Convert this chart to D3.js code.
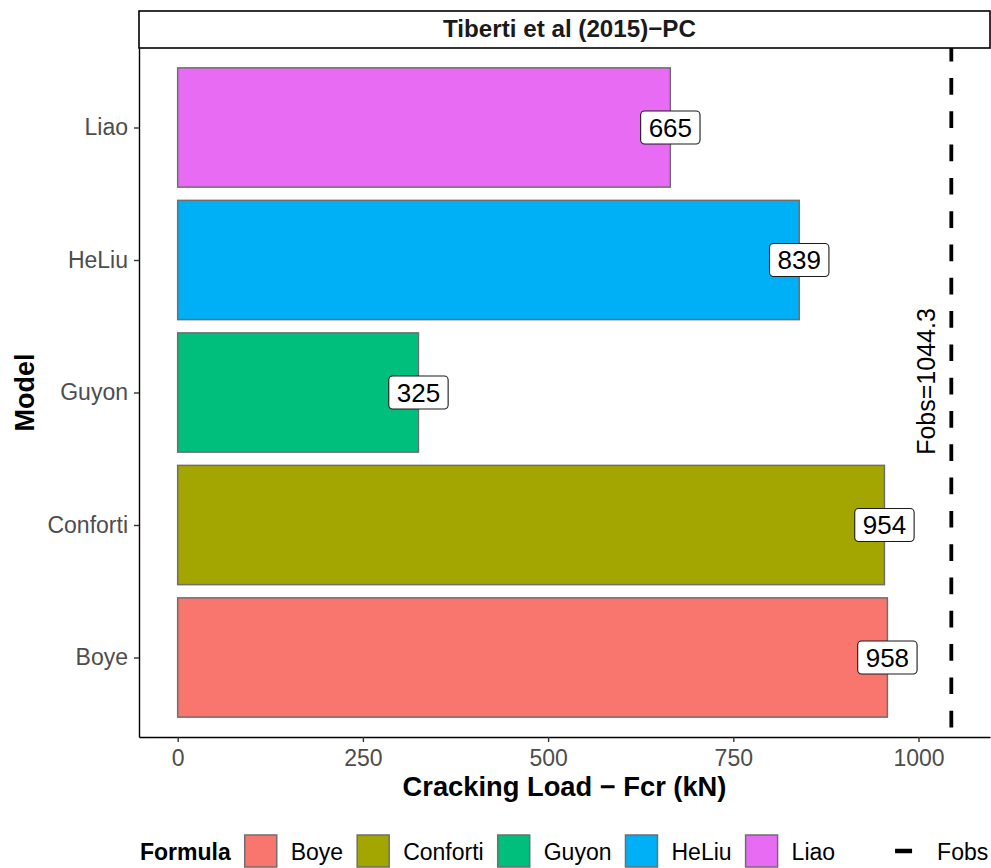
<!DOCTYPE html>
<html>
<head>
<meta charset="utf-8">
<script src="https://cdn.jsdelivr.net/npm/d3@7"></script>
<style>
  html, body { margin: 0; padding: 0; background: #ffffff; }
  svg { display: block; font-family: "Liberation Sans", Arial, Helvetica, sans-serif; }
</style>
</head>
<body>
<svg id="chart" width="991" height="868"></svg>
<script>
// Cracking load per formula, Tiberti et al (2015) - PC specimen
const models = ["Boye", "Conforti", "Guyon", "HeLiu", "Liao"];
const fcr = [958, 954, 325, 839, 665];
const fillColors = ["#F8766D", "#A3A500", "#00BF7D", "#00B0F6", "#E76BF3"];
const fobs = 1044.3;
const xTicks = [0, 250, 500, 750, 1000];
const stripTitle = "Tiberti et al (2015)\u2212PC";
const xTitle = "Cracking Load \u2212 Fcr (kN)";
const yTitle = "Model";
const legendTitle = "Formula";
const fobsKeyLabel = "Fobs";

const svg = d3.select("#chart");
const W = 991, H = 868;
const panel = { left: 139, right: 990, top: 48, bottom: 737 };

svg.append("rect").attr("width", W).attr("height", H).attr("fill", "#ffffff");

// scales (5% expansion on the continuous axis, 0.6 on the discrete one)
const xMax = fobs;
const x = d3.scaleLinear()
  .domain([-0.05 * xMax, xMax * 1.05])
  .range([panel.left, panel.right]);

const y = d3.scalePoint()
  .domain(models.slice().reverse())
  .range([panel.top, panel.bottom])
  .padding(0.6);

const barH = y.step() * 0.9;
const color = d3.scaleOrdinal().domain(models).range(fillColors);
const data = models.map((m, i) => ({ model: m, value: fcr[i] }));

// strip
svg.append("rect")
  .attr("x", panel.left).attr("y", 11)
  .attr("width", panel.right - panel.left).attr("height", panel.top - 11)
  .attr("fill", "#ffffff").attr("stroke", "#000000").attr("stroke-width", 1.6);
svg.append("text")
  .attr("x", (panel.left + panel.right) / 2 + 5).attr("y", 36.5)
  .attr("text-anchor", "middle")
  .attr("font-weight", "bold").attr("font-size", 24.2)
  .attr("fill", "#1a1a1a")
  .text(stripTitle);

// bars
svg.append("g").selectAll("rect")
  .data(data).join("rect")
  .attr("x", x(0))
  .attr("y", d => y(d.model) - barH / 2)
  .attr("width", d => x(d.value) - x(0))
  .attr("height", barH)
  .attr("fill", d => color(d.model))
  .attr("stroke", "#6e6e6e")
  .attr("stroke-width", 1.5);

// observed load reference line
svg.append("line")
  .attr("x1", x(fobs)).attr("x2", x(fobs))
  .attr("y1", panel.top).attr("y2", panel.bottom)
  .attr("stroke", "#000000").attr("stroke-width", 3.8)
  .attr("stroke-dasharray", "16.7 16.6")
  .attr("stroke-dashoffset", 3.3);

svg.append("text")
  .attr("transform", `translate(${x(fobs) - 16},${381.5}) rotate(-90)`)
  .attr("text-anchor", "middle")
  .attr("font-size", 25)
  .attr("fill", "#000000")
  .text("Fobs=" + fobs);

// value labels
const labels = svg.append("g").selectAll("g")
  .data(data).join("g")
  .attr("transform", d => `translate(${x(d.value)},${y(d.model)})`);
labels.append("text")
  .attr("text-anchor", "middle")
  .attr("y", 9.3)
  .attr("font-size", 26)
  .attr("fill", "#000000")
  .text(d => d.value);
labels.each(function () {
  const g = d3.select(this);
  const w = g.select("text").node().getComputedTextLength();
  g.insert("rect", "text")
    .attr("x", -w / 2 - 8).attr("y", -16.5)
    .attr("width", w + 16).attr("height", 33)
    .attr("rx", 4).attr("ry", 4)
    .attr("fill", "#ffffff").attr("stroke", "#1a1a1a").attr("stroke-width", 1.1);
});

// axes
const yAxis = svg.append("g")
  .attr("transform", `translate(${panel.left},0)`)
  .call(d3.axisLeft(y).tickSize(5).tickSizeOuter(0).tickPadding(6));
const xAxis = svg.append("g")
  .attr("transform", `translate(0,${panel.bottom})`)
  .call(d3.axisBottom(x).tickValues(xTicks).tickFormat(d3.format("d"))
    .tickSize(5).tickSizeOuter(0).tickPadding(8));

[yAxis, xAxis].forEach(a => {
  a.select(".domain").attr("stroke", "#000000").attr("stroke-width", 1.4);
  a.selectAll(".tick line").attr("stroke", "#333333").attr("stroke-width", 1.4);
  a.selectAll(".tick text")
    .attr("font-family", "'Liberation Sans', Arial, sans-serif")
    .attr("font-size", 23).attr("fill", "#4d4d4d");
});

// axis titles
svg.append("text")
  .attr("x", (panel.left + panel.right) / 2).attr("y", 796)
  .attr("text-anchor", "middle")
  .attr("font-weight", "bold").attr("font-size", 27.3)
  .attr("fill", "#000000")
  .text(xTitle);
svg.append("text")
  .attr("transform", `translate(34,${(panel.top + panel.bottom) / 2}) rotate(-90)`)
  .attr("text-anchor", "middle")
  .attr("font-weight", "bold").attr("font-size", 27)
  .attr("fill", "#000000")
  .text(yTitle);

// legend
const legend = svg.append("g");
const keyY = 851, keyS = 32, textBase = 860;
let lx = 140;
const lt = legend.append("text")
  .attr("x", lx).attr("y", textBase)
  .attr("font-weight", "bold").attr("font-size", 23)
  .attr("fill", "#000000").text(legendTitle);
lx += lt.node().getComputedTextLength() + 14;
models.forEach(m => {
  legend.append("rect")
    .attr("x", lx).attr("y", keyY - keyS / 2)
    .attr("width", keyS).attr("height", keyS)
    .attr("fill", color(m)).attr("stroke", "#6e6e6e").attr("stroke-width", 1.5);
  const t = legend.append("text")
    .attr("x", lx + keyS + 14).attr("y", textBase)
    .attr("font-size", 23).attr("fill", "#000000").text(m);
  lx += keyS + 14 + t.node().getComputedTextLength() + 14;
});
lx += 31;
legend.append("line")
  .attr("x1", lx + 15).attr("x2", lx + 32)
  .attr("y1", keyY).attr("y2", keyY)
  .attr("stroke", "#000000").attr("stroke-width", 4.5);
legend.append("text")
  .attr("x", lx + 57).attr("y", textBase)
  .attr("font-size", 23).attr("fill", "#000000").text(fobsKeyLabel);
</script>
</body>
</html>
